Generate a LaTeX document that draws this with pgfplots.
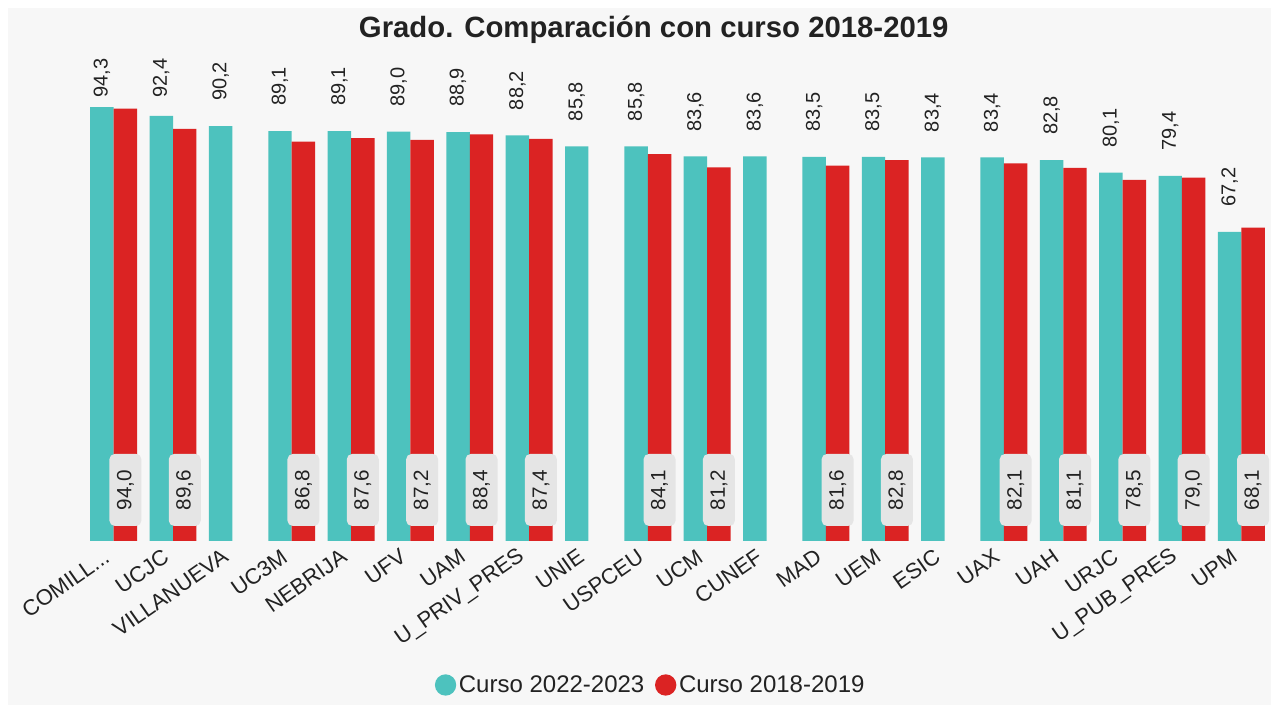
\documentclass[border=0pt]{standalone}
\usepackage{pgfplots}
\pgfplotsset{compat=1.18}
\usepackage{fontspec}
\setmainfont{Liberation Sans}
\definecolor{tealc}{RGB}{77,194,190}
\definecolor{redc}{RGB}{219,35,35}
\definecolor{panel}{RGB}{247,247,247}
\definecolor{lbox}{RGB}{229,229,229}
\definecolor{txt}{RGB}{34,34,34}
\begin{document}
\begin{tikzpicture}
\fill[white] (-63pt,-129pt) rectangle (896.25pt,405.75pt);
\fill[panel] (-57pt,-123pt) rectangle (890.25pt,399.75pt);
\begin{axis}[
  at={(0pt,0pt)}, anchor=south west,
  scale only axis, width=890.25pt, height=345pt,
  ymin=0, ymax=100, xmin=-0.5, xmax=19.5,
  clip=false,
  axis line style={draw=none},
  tick style={draw=none},
  ytick=\empty,
  xtick={0,1,2,3,4,5,6,7,8,9,10,11,12,13,14,15,16,17,18,19},
  xticklabels={COMILL{.}{.}{.},UCJC,VILLANUEVA,UC3M,NEBRIJA,UFV,UAM,U\_PRIV\_PRES,UNIE,USPCEU,UCM,CUNEF,MAD,UEM,ESIC,UAX,UAH,URJC,U\_PUB\_PRES,UPM},
  x tick label style={xshift=-3.5pt, yshift=-4.5pt, rotate=35, anchor=east, font=\fontsize{16.5}{20}\selectfont, text=txt, inner sep=2pt},
  ybar=0pt, bar width=17.6pt,
  title={Grado. Comparación con curso 2018-2019},
  title style={at={(0.48,1.095)}, anchor=center, font=\bfseries\fontsize{22}{26}\selectfont, text=txt},
  legend style={at={(0.4777,-0.313)}, anchor=center, draw=none, fill=none, legend columns=2,
    font=\fontsize{18}{22}\selectfont, text=txt,
    /tikz/every even column/.append style={column sep=6pt}},
]
\addplot[fill=tealc, draw=none,
  legend image code/.code={\fill[tealc] (0pt,0pt) circle (8pt);},
  visualization depends on={rawy \as \rawy},
  nodes near coords={\pgfmathprintnumber[fixed,fixed zerofill,precision=1,use comma,assume math mode=true]{\pgfplotspointmeta}},
  every node near coord/.append style={yshift={(min(\rawy+5.43,96.3)-\rawy)*3.45pt-3pt}, rotate=90, anchor=west, font=\fontsize{15}{18}\selectfont, text=txt, inner sep=3pt}]
coordinates {(0,94.3) (1,92.4) (2,90.2) (3,89.1) (4,89.1) (5,89.0) (6,88.9) (7,88.2) (8,85.8) (9,85.8)
 (10,83.6) (11,83.6) (12,83.5) (13,83.5) (14,83.4) (15,83.4) (16,82.8) (17,80.1) (18,79.4) (19,67.2)};
\addlegendentry{Curso 2022-2023}
\addplot[fill=redc, draw=none,
  legend image code/.code={\fill[redc] (0pt,0pt) circle (8pt);},
  visualization depends on={rawy \as \rawy},
  nodes near coords={\pgfmathprintnumber[fixed,fixed zerofill,precision=1,use comma,assume math mode=true]{\pgfplotspointmeta}},
  every node near coord/.append style={yshift={(11.1-\rawy)*3.45pt}, rotate=90, anchor=center, fill=lbox, rounded corners=4pt, minimum width=54pt, minimum height=24pt, inner sep=1pt, font=\fontsize{15.5}{18}\selectfont, text=txt}]
coordinates {(0,94.0) (1,89.6) (3,86.8) (4,87.6) (5,87.2) (6,88.4) (7,87.4) (9,84.1)
 (10,81.2) (12,81.6) (13,82.8) (15,82.1) (16,81.1) (17,78.5) (18,79.0) (19,68.1)};
\addlegendentry{Curso 2018-2019}
\end{axis}
\end{tikzpicture}
\end{document}
